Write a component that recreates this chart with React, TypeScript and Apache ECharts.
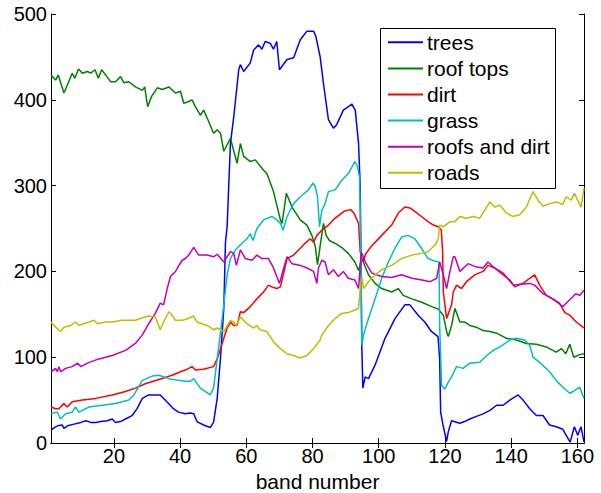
import React, { useEffect, useRef } from "react";
import * as echarts from "echarts";

const seriesNames = ["trees", "roof tops", "dirt", "grass", "roofs and dirt", "roads"];
const seriesColors = ["#0000FF", "#008000", "#FF0000", "#00BFBF", "#BF00BF", "#BFBF00"];
const xTicks = [20, 40, 60, 80, 100, 120, 140, 160];
const yTicks = [0, 100, 200, 300, 400, 500];

const trees: number[][] = [[1,15],[2,18],[3,20],[4.4,21],[4.9,17],[6,20],[8,22],[10,24],[11.5,26],[13,24],[14.5,24],[16,25],[18,26],[19.5,28],[20.5,24],[22,25],[23.5,28],[25.5,32],[27,40],[28.6,52],[30.5,56],[32,56],[34,56],[36,48],[38,40],[39.5,36],[41.6,34],[43,35],[44.1,34],[45.1,25],[47.1,21],[49.1,18],[50.1,24],[51.2,52],[52.2,99],[53.2,157],[53.7,234],[54.2,252],[55.2,349],[56.2,380],[57.7,435],[58.2,441],[59.2,433],[61.2,443],[62.2,458],[63.7,464],[64.7,459],[65.7,468],[67.2,466],[68.2,459],[69.2,468],[70,435],[72.3,447],[74.3,449],[76.3,470],[78.3,480],[80.3,480],[81,474],[82.3,450],[83.3,419],[84.8,377],[86.3,367],[87.3,371],[89.3,388],[91.9,395],[92.9,388],[93.9,349],[94.4,299],[94.9,110],[95.2,64],[95.9,77],[96.9,75],[98.9,91],[101.9,122],[104.9,145],[107.9,161],[109.4,161],[111.9,149],[113.9,141],[115.9,130],[117.9,124],[118.4,98],[118.7,36],[119.4,21],[120.5,2],[121,13],[122,26],[124.5,23],[126.5,26],[127.5,28],[129.5,31],[131.5,34],[133.6,38],[135.6,44],[137.6,44],[139.6,50],[142.1,56],[143.6,50],[145.6,40],[147.6,32],[149.6,32],[151.6,21],[153.6,19],[155.6,16],[157.8,1],[159.1,19],[160.1,9],[161.1,19],[162,1]];

const roofTops: number[][] = [[1,429],[2.4,423],[3.2,429],[4.9,408],[5.9,417],[7.4,431],[8.2,425],[9.3,436],[10.5,431],[12,433],[13,431],[14.3,435],[15.3,425],[16.3,435],[17.5,429],[19,421],[20.5,421],[22,427],[23,420],[24.5,421],[26.5,415],[28.6,411],[29.3,415],[30.2,392],[31.4,404],[33.1,414],[34.6,412],[36.6,415],[38.6,408],[40.1,410],[41.1,396],[42.6,398],[43.6,400],[44.6,392],[46.1,382],[47.1,388],[48.6,375],[50.1,361],[51.2,365],[52.2,361],[53.2,340],[55.2,355],[57.2,326],[58.2,349],[59.2,334],[61.2,328],[62.7,330],[65.2,318],[66.2,314],[68.2,293],[70.3,260],[70.8,256],[72.1,291],[73.8,275],[76.3,260],[78.3,254],[79.8,242],[80.8,230],[81.5,208],[82.5,235],[83.3,256],[84.1,242],[85.1,236],[87.1,232],[89.1,227],[90.8,221],[92.8,211],[93.9,201],[94.9,215],[96.9,196],[98.9,186],[100.9,180],[103.9,176],[105.9,180],[107.4,172],[110,168],[113,164],[116,159],[118,156],[119.5,149],[120.5,130],[121,124],[122,137],[123,157],[124.5,141],[126,141],[127.5,137],[129.5,135],[131.5,131],[133.6,130],[135.6,128],[138.6,122],[141.6,120],[144.6,116],[147.6,115],[150.6,112],[153.6,106],[155.2,110],[156.5,104],[157.7,115],[158.9,100],[160.7,103],[162,104]];

const dirt: number[][] = [[1,42],[2.4,40],[3.4,40],[4.9,46],[5.9,42],[7.4,48],[10.5,50],[14.5,52],[19.5,56],[23.5,60],[26.5,64],[29.5,69],[33.6,74],[37.6,79],[40.1,83],[41.6,85],[43.6,89],[44.6,85],[47,86],[50.1,89],[51.2,98],[52.2,110],[54.2,134],[55.2,141],[56.2,137],[57.2,137],[58.2,153],[59.2,152],[61.2,159],[63.2,168],[65.2,176],[66.7,184],[67.7,182],[69.2,180],[70.3,182],[72.3,215],[74.3,219],[76.3,227],[77.8,233],[79.3,238],[80.3,234],[81.3,242],[82.8,248],[84.8,254],[86.5,261],[89.5,270],[91.5,272],[92.5,268],[93.9,256],[94.4,223],[94.9,215],[95.4,212],[96,220],[97.9,230],[100.9,242],[103.9,254],[105.9,268],[107.9,275],[109.4,274],[110.9,270],[112.9,264],[114.9,258],[116.5,254],[118,252],[118.9,248],[119.3,223],[119.5,176],[120.5,145],[122,161],[122.5,176],[123.5,184],[125,180],[126.5,188],[129,196],[131.5,200],[133,207],[135,204],[137.6,196],[139.6,190],[141.1,182],[143.6,186],[145.6,192],[147.1,196],[148.6,184],[150.6,172],[152.6,168],[154.6,163],[156.2,152],[157.7,149],[159.7,141],[162,134]];

const grass: number[][] = [[1,34],[2.9,36],[3.9,28],[5.4,34],[7.4,36],[8.4,42],[9.4,36],[12.5,42],[16.5,44],[20.5,46],[24.5,50],[26,56],[28.6,73],[31.6,78],[33.6,79],[36.6,75],[39.6,73],[41.6,72],[43.1,72],[44.1,75],[46.1,64],[49.1,56],[50.1,64],[51.2,98],[52.7,145],[54.2,196],[55.2,215],[56.7,225],[58.2,231],[60.2,238],[61.2,244],[62,236],[63.2,250],[65.2,260],[67.7,264],[69.2,260],[70.3,256],[71.1,248],[72.3,264],[74.3,279],[76.3,287],[78.8,295],[80.1,303],[80.8,299],[81.5,287],[82.1,252],[82.8,271],[83.8,279],[84.8,293],[86.8,295],[88.8,306],[90.8,314],[92.8,328],[93.6,322],[94.2,310],[94.4,272],[94.9,114],[95.4,126],[96.9,145],[98.9,168],[100.9,192],[102.9,211],[104.9,227],[106.9,240],[108.9,242],[110.9,238],[112.9,227],[114.9,215],[116.9,212],[118.2,211],[118.4,137],[119,67],[120,63],[121,71],[122,77],[123.5,89],[125.5,87],[127.5,93],[130.5,94],[132.6,102],[134.6,108],[136.6,112],[139.6,120],[141.6,122],[144.1,120],[145.6,114],[146.6,100],[148.6,94],[151.6,83],[153.6,73],[155.6,65],[157.7,58],[159.1,61],[160.7,65],[162,52]];

const roofsAndDirt: number[][] = [[1,83],[2.4,87],[2.9,83],[3.4,89],[3.9,83],[5.4,87],[7.4,89],[9,93],[10,89],[12.5,94],[15.5,98],[19.5,102],[23.5,108],[26.5,116],[28.6,126],[30.5,139],[32.5,151],[34,163],[35,161],[36.1,180],[37.1,194],[38.6,200],[40.6,213],[41.6,215],[42.6,219],[44.1,228],[45.6,219],[48.2,219],[50.1,217],[51.2,220],[53.2,211],[55.2,223],[56.2,221],[57,207],[58.2,225],[59.7,215],[61.7,213],[63.2,219],[64.7,215],[66.7,215],[68.2,204],[70,186],[71.3,204],[72.3,217],[73.8,209],[76.3,207],[78.3,204],[80.3,200],[81.3,186],[81.8,204],[82.8,213],[83.8,211],[84.8,196],[86.3,202],[87.8,194],[89.3,200],[90.8,192],[92.8,190],[93.9,180],[94.7,223],[95.9,211],[97.9,198],[100.9,194],[103.9,193],[106.9,196],[110,192],[113,190],[115.5,188],[117.5,192],[118.4,211],[119.5,196],[120.5,180],[121.5,200],[122.5,217],[123,217],[124.5,200],[127,209],[129.5,205],[131.5,204],[133,211],[135,204],[137.6,198],[140.6,184],[142.6,185],[145.6,186],[147.1,184],[149.6,174],[151.6,170],[153.6,165],[155.6,159],[157.7,167],[159.5,174],[160.7,172],[162,178]];

const roads: number[][] = [[1,141],[2.4,135],[3.9,130],[4.9,135],[7,137],[8.4,141],[9.4,137],[12.5,141],[14,143],[15,139],[17.5,141],[19.5,141],[22.5,143],[26.5,143],[28.6,146],[30.5,148],[32.5,147],[34,132],[35,141],[36.6,153],[37.6,149],[38.6,143],[40.6,143],[41.6,144],[44.1,148],[45.1,141],[48.2,137],[50.1,132],[51.2,134],[53.2,130],[55.2,143],[56.2,141],[57,137],[58.2,147],[60.2,139],[62.2,134],[63.2,137],[64.2,132],[66.2,130],[68.2,118],[70.3,110],[72.3,104],[74.3,102],[76.3,99],[78.3,102],[80.3,110],[82.3,120],[82.8,126],[84.8,137],[86.8,145],[88.8,151],[90.8,152],[92.8,155],[93.9,157],[94.4,180],[94.9,194],[95.4,180],[96.9,188],[98.9,196],[100.9,202],[103.9,207],[106.9,215],[110,219],[113,221],[114.9,223],[117,231],[118,238],[118.4,254],[119.5,252],[121.5,258],[123,258],[124.5,264],[126.5,262],[128.5,264],[130.5,262],[133.6,281],[135,275],[136.6,277],[138.6,268],[140.6,264],[142.6,266],[144.6,275],[146.6,293],[148.1,283],[149.6,276],[151.6,279],[153.6,281],[155.6,278],[156.6,287],[158.1,283],[159.1,291],[160.1,283],[161.1,275],[162,297]];

const allData = [trees, roofTops, dirt, grass, roofsAndDirt, roads];

const FONT = "'Liberation Sans', Arial, Helvetica, sans-serif";

export default function App() {
  const ref = useRef<HTMLDivElement>(null);
  useEffect(() => {
    document.body.style.margin = "0";
    if (!ref.current) return;
    const chart = echarts.init(ref.current, null, { renderer: "svg" });
    const axisLine = { show: true, lineStyle: { color: "#000", width: 1 } };
    chart.setOption({
      animation: false,
      backgroundColor: "#fff",
      grid: { left: 51, right: 17, top: 14, bottom: 50, containLabel: false, outerBoundsMode: "none" },
      xAxis: [
        {
          type: "value",
          min: 1,
          max: 162,
          position: "bottom",
          name: "band number",
          nameLocation: "middle",
          nameGap: 22,
          nameTextStyle: { fontFamily: FONT, fontSize: 21, color: "#000" },
          axisLine,
          axisTick: { show: true, inside: true, length: 5, customValues: xTicks, lineStyle: { color: "#000" } },
          axisLabel: { show: true, customValues: xTicks, margin: 3, fontFamily: FONT, fontSize: 20, color: "#000" },
          splitLine: { show: false },
        },
        {
          type: "value",
          min: 1,
          max: 162,
          position: "top",
          axisLine,
          axisTick: { show: true, inside: true, length: 5, customValues: xTicks, lineStyle: { color: "#000" } },
          axisLabel: { show: false },
          splitLine: { show: false },
        },
      ],
      yAxis: [
        {
          type: "value",
          min: 0,
          max: 500,
          interval: 100,
          position: "left",
          axisLine,
          axisTick: { show: true, inside: true, length: 5, lineStyle: { color: "#000" } },
          axisLabel: { show: true, margin: 4, fontFamily: FONT, fontSize: 20, color: "#000" },
          splitLine: { show: false },
        },
        {
          type: "value",
          min: 0,
          max: 500,
          interval: 100,
          position: "right",
          axisLine,
          axisTick: { show: true, inside: true, length: 5, lineStyle: { color: "#000" } },
          axisLabel: { show: false },
          splitLine: { show: false },
        },
      ],
      legend: {
        orient: "vertical",
        left: 387,
        top: 31.8,
        z: 10,
        padding: 0,
        itemWidth: 35,
        itemHeight: 14,
        itemGap: 5.1,
        itemStyle: { opacity: 0 },
        lineStyle: { width: 2 },
        textStyle: { fontFamily: FONT, fontSize: 21, color: "#000", lineHeight: 20, padding: [0, 0, 0, -1] },
        data: seriesNames,
      },
      graphic: [
        {
          type: "rect",
          z: 3,
          shape: { x: 380.5, y: 28.5, width: 175, height: 160 },
          style: { fill: "#fff", stroke: "#000", lineWidth: 1 },
        },
      ],
      series: seriesNames.map((name, i) => ({
        name,
        type: "line",
        xAxisIndex: 0,
        yAxisIndex: 0,
        data: allData[i],
        symbol: "none",
        showSymbol: false,
        lineStyle: { color: seriesColors[i], width: 1.5 },
        itemStyle: { color: seriesColors[i] },
      })),
    });
    return () => chart.dispose();
  }, []);
  return <div ref={ref} style={{ width: 601, height: 493 }} />;
}
